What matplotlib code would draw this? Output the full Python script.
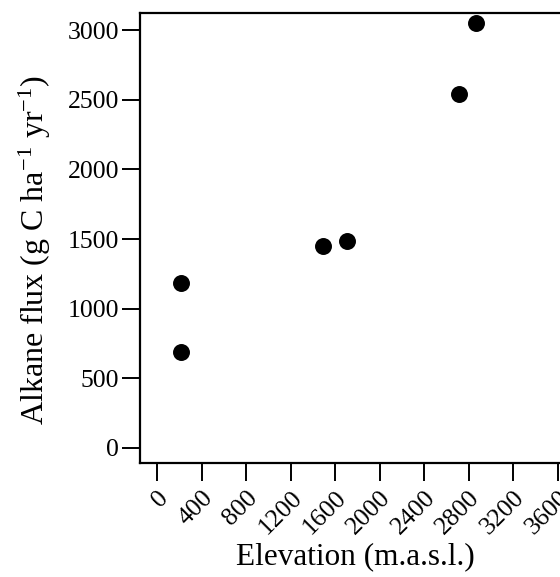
import matplotlib
matplotlib.use("Agg")
import matplotlib.pyplot as plt

# data
elevation = [218, 218, 1489, 1708, 2717, 2867]
alkane_flux = [1185, 691, 1453, 1484, 2545, 3053]

x_ticks = [0, 400, 800, 1200, 1600, 2000, 2400, 2800, 3200, 3600]
y_ticks = [0, 500, 1000, 1500, 2000, 2500, 3000]

plt.rcParams['font.family'] = ['Liberation Serif', 'DejaVu Serif']
plt.rcParams['mathtext.fontset'] = 'custom'
plt.rcParams['mathtext.rm'] = 'Liberation Serif'
plt.rcParams['mathtext.it'] = 'Liberation Serif:italic'

fig = plt.figure(figsize=(5.6, 5.77), dpi=100)
ax = fig.add_axes([140/560, 1 - 463/577, 440/560, 450/577])

ax.scatter(elevation, alkane_flux, s=125, c='black', zorder=3, clip_on=False)

ax.set_xlim(-153, 3800)
ax.set_ylim(-110, 3125)
ax.set_xticks(x_ticks)
ax.set_yticks(y_ticks)
ax.set_xticklabels([str(t) for t in x_ticks], rotation=45, ha='right',
                   rotation_mode='anchor', fontsize=18.5)
ax.set_yticklabels([str(t) for t in y_ticks], fontsize=18.5)
ax.tick_params(length=13, width=1.4, direction='out', pad=2)
ax.tick_params(axis='x', pad=4)

ax.spines['right'].set_visible(False)
for s in ['left', 'top', 'bottom']:
    ax.spines[s].set_linewidth(1.6)

fig.text(355/560, 1 - 557/577, 'Elevation (m.a.s.l.)', fontsize=22.5,
         ha='center', va='center')
fig.text(35/560, 1 - 250/577, r'Alkane flux (g C ha$^{-1}$ yr$^{-1}$)',
         fontsize=23, ha='center', va='center', rotation=90)

fig.savefig('out.png', dpi=100)
